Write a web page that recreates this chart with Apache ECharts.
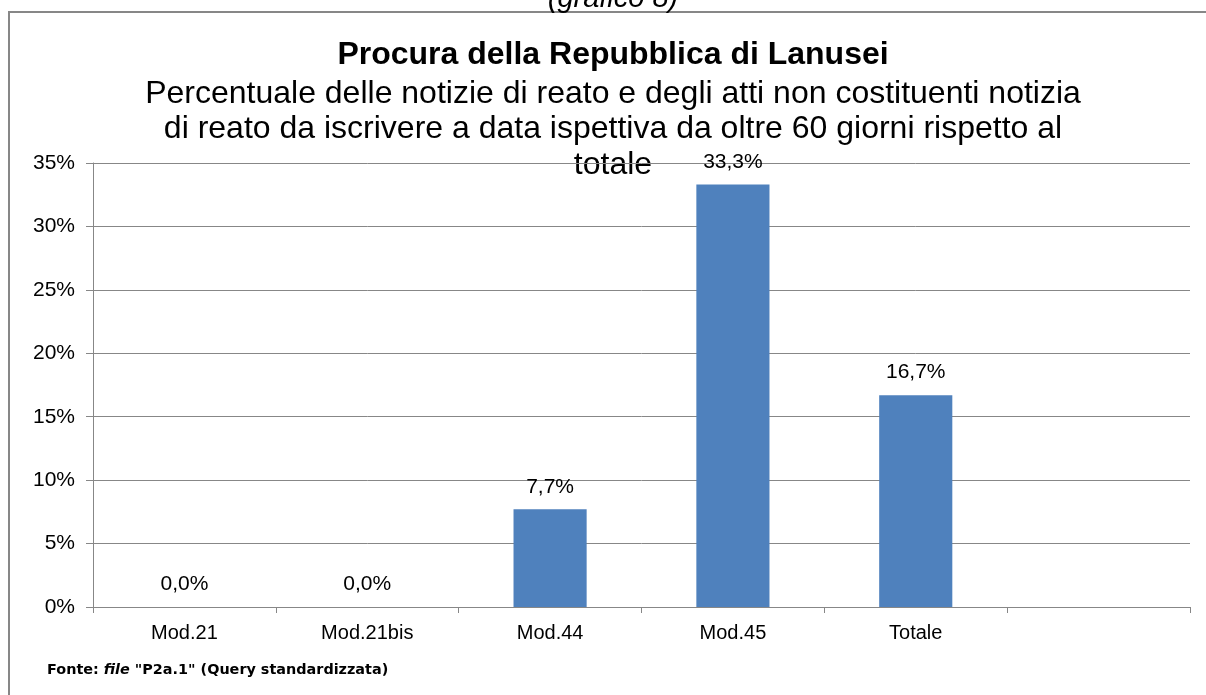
<!DOCTYPE html>
<html>
<head>
<meta charset="utf-8">
<title>Procura della Repubblica di Lanusei</title>
<script src="https://cdn.jsdelivr.net/npm/echarts@6/dist/echarts.min.js"></script>
<style>
    html, body { margin: 0; padding: 0; background: #fff; }
    #chart_1 { width: 1206px; height: 695px; }
</style>
</head>
<body>
<div id="chart_1"></div>
<script>
var categories = ['Mod.21', 'Mod.21bis', 'Mod.44', 'Mod.45', 'Totale', ''];
var percentuali = [0, 0, 7.7, 33.3, 16.7, null];
var yTicks = [0, 5, 10, 15, 20, 25, 30, 35];

var chart_1 = echarts.init(document.getElementById('chart_1'));
var axisFont = "'Liberation Sans', Arial, sans-serif";
var option = {
    animation: false,
    backgroundColor: '#fff',
    grid: {
        left: 93,
        right: 16,
        top: 163,
        bottom: 88
    },
    graphic: [{
        // cornice
        type: 'polyline',
        shape: { points: [[9, 695], [9, 12], [1206, 12]] },
        style: { stroke: '#878787', lineWidth: 2, fill: null },
        silent: true
    }, {
        type: 'text',
        x: 613, y: -1,
        style: {
            text: '(grafico 8)',
            font: 'italic 29px ' + axisFont,
            fill: '#000',
            textAlign: 'center',
            textVerticalAlign: 'middle'
        }
    }, {
        type: 'text',
        x: 613, y: 55,
        style: {
            text: 'Procura della Repubblica di Lanusei',
            font: 'bold 32px ' + axisFont,
            fill: '#000',
            textAlign: 'center',
            textVerticalAlign: 'middle'
        }
    }, {
        type: 'text',
        x: 613, y: 76,
        style: {
            text: 'Percentuale delle notizie di reato e degli atti non costituenti notizia\ndi reato da iscrivere a data ispettiva da oltre 60 giorni rispetto al\ntotale',
            font: '32px ' + axisFont,
            lineHeight: 35.5,
            fill: '#000',
            textAlign: 'center',
            textVerticalAlign: 'top'
        }
    }, {
        type: 'text',
        x: 47, y: 670,
        style: {
            text: '{b|Fonte: }{i|file}{b| "P2a.1" (Query standardizzata)}',
            textVerticalAlign: 'middle',
            rich: {
                b: { font: "bold 14.4px 'DejaVu Sans', sans-serif", fill: '#000' },
                i: { font: "italic bold 14.4px 'DejaVu Sans', sans-serif", fill: '#000' }
            }
        }
    }],
    xAxis: [{
        type: 'category',
        data: categories,
        axisLine: { lineStyle: { color: '#878787', width: 1 } },
        axisTick: { show: true, length: 6, lineStyle: { color: '#878787' } },
        axisLabel: {
            color: '#000',
            fontSize: 20,
            fontFamily: axisFont,
            margin: 16
        }
    }],
    yAxis: [{
        type: 'value',
        min: 0,
        max: yTicks[yTicks.length - 1],
        interval: 5,
        axisLine: { show: true, lineStyle: { color: '#878787', width: 1 } },
        axisTick: { show: true, length: 7, lineStyle: { color: '#878787' } },
        splitLine: { show: true, lineStyle: { color: '#878787', width: 1 } },
        axisLabel: {
            color: '#000',
            fontSize: 21,
            fontFamily: axisFont,
            margin: 18,
            formatter: '{value}%'
        }
    }],
    series: [{
        name: 'Percentuale',
        type: 'bar',
        data: percentuali,
        barWidth: '40%',
        itemStyle: { color: '#4F81BD' },
        label: {
            show: true,
            position: 'top',
            distance: 12,
            color: '#000',
            fontSize: 21,
            fontFamily: axisFont,
            formatter: function(p) {
                if (p.value == null) return '';
                return p.value.toFixed(1).replace('.', ',') + '%';
            }
        }
    }]
};
chart_1.setOption(option);
</script>
</body>
</html>
